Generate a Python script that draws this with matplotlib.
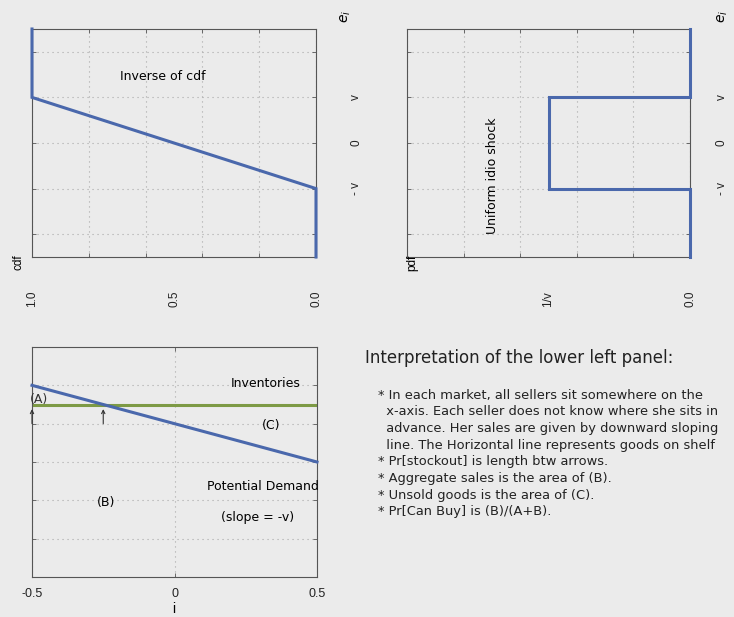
import matplotlib
matplotlib.use("Agg")
import matplotlib.pyplot as plt
import numpy as np

plt.rcParams['font.family'] = ['Liberation Sans', 'DejaVu Sans']

BG = '#ebebeb'
BLUE = '#4a68ac'
GREEN = '#7d9a45'
GRID = '#a8a8a8'
SPINE = '#555555'
WIDE = ['DejaVu Sans']

# --- data -------------------------------------------------------------
# top-left: inverse of the cdf (cdf on horizontal, shock e_i on vertical, v = 1)
cdf_vals = [1.0, 1.0, 0.0, 0.0]
cdf_e = [2.5, 1.0, -1.0, -2.5]
cdf_ticks = [1.0, 0.5, 0.0]
cdf_ticklabels = ['1.0', '0.5', '0.0']

# top-right: uniform pdf (in units of 1/v)
pdf_vals = [0.0, 0.0, 1.0, 1.0, 0.0, 0.0]
pdf_e = [2.5, 1.0, 1.0, -1.0, -1.0, -2.5]
pdf_ticks = [1.0, 0.0]
pdf_ticklabels = ['1/v', '0.0']

e_ticks = [-1.0, 0.0, 1.0]
e_ticklabels = ['- v', '0', 'v']

# bottom-left: potential demand vs inventories over sellers i
i_vals = [-0.5, 0.5]
demand_vals = [5.0, 3.0]
inventory_level = 4.5
arrow_i = [-0.5, -0.25]
i_ticks = [-0.5, 0.0, 0.5]
i_ticklabels = ['-0.5', '0', '0.5']

notes_title = 'Interpretation of the lower left panel:'
notes = [
    '* In each market, all sellers sit somewhere on the',
    '  x-axis. Each seller does not know where she sits in',
    '  advance. Her sales are given by downward sloping',
    '  line. The Horizontal line represents goods on shelf',
    '* Pr[stockout] is length btw arrows.',
    '* Aggregate sales is the area of (B).',
    '* Unsold goods is the area of (C).',
    '* Pr[Can Buy] is (B)/(A+B).',
]

# --- figure -----------------------------------------------------------
W, H = 734, 617
fig = plt.figure(figsize=(W / 100, H / 100), dpi=100, facecolor=BG)


def px_axes(x0, y0, x1, y1):
    return fig.add_axes([x0 / W, 1 - y1 / H, (x1 - x0) / W, (y1 - y0) / H])


def fig_xy(x, y):
    return x / W, 1 - y / H


def style(ax):
    ax.set_facecolor(BG)
    ax.xaxis.remove_overlapping_locs = False
    ax.yaxis.remove_overlapping_locs = False
    for s in ax.spines.values():
        s.set_color(SPINE)
        s.set_linewidth(0.8)
    ax.tick_params(which='both', direction='in', colors=SPINE,
                   top=True, right=True, labelsize=8.5, labelcolor='#222222')
    ax.tick_params(which='minor', length=3, width=0.6)
    ax.tick_params(which='major', length=0)
    ax.grid(which='minor', linestyle=(0, (1, 3.5)), color=GRID, linewidth=0.8)
    ax.set_axisbelow(True)


def rotated_panel(ax, xmax, xticks, xticklabels, label_pad):
    style(ax)
    ax.set_xlim(xmax, 0)
    ax.set_ylim(-2.5, 2.5)
    ax.set_xticks(np.linspace(0, xmax, 6), minor=True)
    ax.set_yticks([-2, -1, 0, 1, 2], minor=True)
    ax.set_xticks(xticks)
    ax.set_xticklabels(xticklabels, rotation=90, va='center')
    ax.set_yticks(e_ticks)
    ax.set_yticklabels(e_ticklabels, rotation=90, ha='center', va='center')
    ax.yaxis.tick_right()
    ax.tick_params(axis='y', which='both', left=True, right=True)
    ax.tick_params(axis='x', which='major', pad=30)
    ax.tick_params(axis='y', which='major', pad=label_pad)


# top-left panel
ax1 = px_axes(32, 29, 316, 257)
rotated_panel(ax1, 1.0, cdf_ticks, cdf_ticklabels, 29)
ax1.plot(cdf_vals, cdf_e, color=BLUE, lw=2.2, solid_joinstyle='miter',
         clip_on=False, zorder=3)
fig.text(*fig_xy(163, 76), 'Inverse of cdf', ha='center', va='center',
         fontsize=9, family=WIDE)
fig.text(*fig_xy(19, 262), 'cdf', rotation=90, ha='center', va='center', fontsize=8.5)
fig.text(*fig_xy(346, 16), r'$e_i$', rotation=90, ha='center', va='center', fontsize=10)

# top-right panel
ax2 = px_axes(407, 29, 690, 257)
rotated_panel(ax2, 2.0, pdf_ticks, pdf_ticklabels, 23)
ax2.plot(pdf_vals, pdf_e, color=BLUE, lw=2.2, solid_joinstyle='miter',
         clip_on=False, zorder=3)
fig.text(*fig_xy(493, 176), 'Uniform idio shock', rotation=90, ha='center',
         va='center', fontsize=9, family=WIDE)
fig.text(*fig_xy(412, 263), 'pdf', rotation=90, ha='center', va='center', fontsize=8.5)
fig.text(*fig_xy(723, 16), r'$e_i$', rotation=90, ha='center', va='center', fontsize=10)

# bottom-left panel
ax3 = px_axes(32, 347, 317, 577)
style(ax3)
ax3.set_xlim(-0.5, 0.5)
ax3.set_ylim(0, 6)
ax3.set_xticks(i_ticks, minor=True)
ax3.set_yticks([1, 2, 3, 4, 5], minor=True)
ax3.set_xticks(i_ticks)
ax3.set_xticklabels(i_ticklabels)
ax3.set_yticks([])
ax3.tick_params(axis='x', which='major', pad=8, labelsize=9)
ax3.plot(i_vals, demand_vals, color=BLUE, lw=2.2, clip_on=False, zorder=3)
ax3.axhline(inventory_level, color=GREEN, lw=2.2, zorder=2)
for xa in arrow_i:
    ax3.annotate('', xy=(xa, inventory_level - 0.12), xytext=(xa, inventory_level - 0.5),
                 arrowprops=dict(arrowstyle='->', color='#333333', lw=0.8,
                                 shrinkA=0, shrinkB=0, mutation_scale=6),
                 annotation_clip=False)
ax3.text(-0.475, 4.62, '(A)', ha='center', va='center', fontsize=9,
         color='#333333', family=WIDE)
ax3.text(0.32, 5.05, 'Inventories', ha='center', va='center', fontsize=9, family=WIDE)
ax3.text(0.34, 3.95, '(C)', ha='center', va='center', fontsize=9, family=WIDE)
ax3.text(0.31, 2.35, 'Potential Demand', ha='center', va='center', fontsize=9, family=WIDE)
ax3.text(0.29, 1.55, '(slope = -v)', ha='center', va='center', fontsize=9, family=WIDE)
ax3.text(-0.24, 1.95, '(B)', ha='center', va='center', fontsize=9, family=WIDE)
fig.text(*fig_xy(174, 616), 'i', ha='center', va='bottom', fontsize=10)

# notes
fig.text(*fig_xy(365, 358), notes_title, ha='left', va='center', fontsize=12,
         color='#222222', family=WIDE)
y0 = 395
for k, line in enumerate(notes):
    fig.text(*fig_xy(378, y0 + k * 16.7), line, ha='left', va='center',
             fontsize=9.4, color='#222222', family=WIDE)

fig.savefig('out.png', dpi=100, facecolor=BG)
